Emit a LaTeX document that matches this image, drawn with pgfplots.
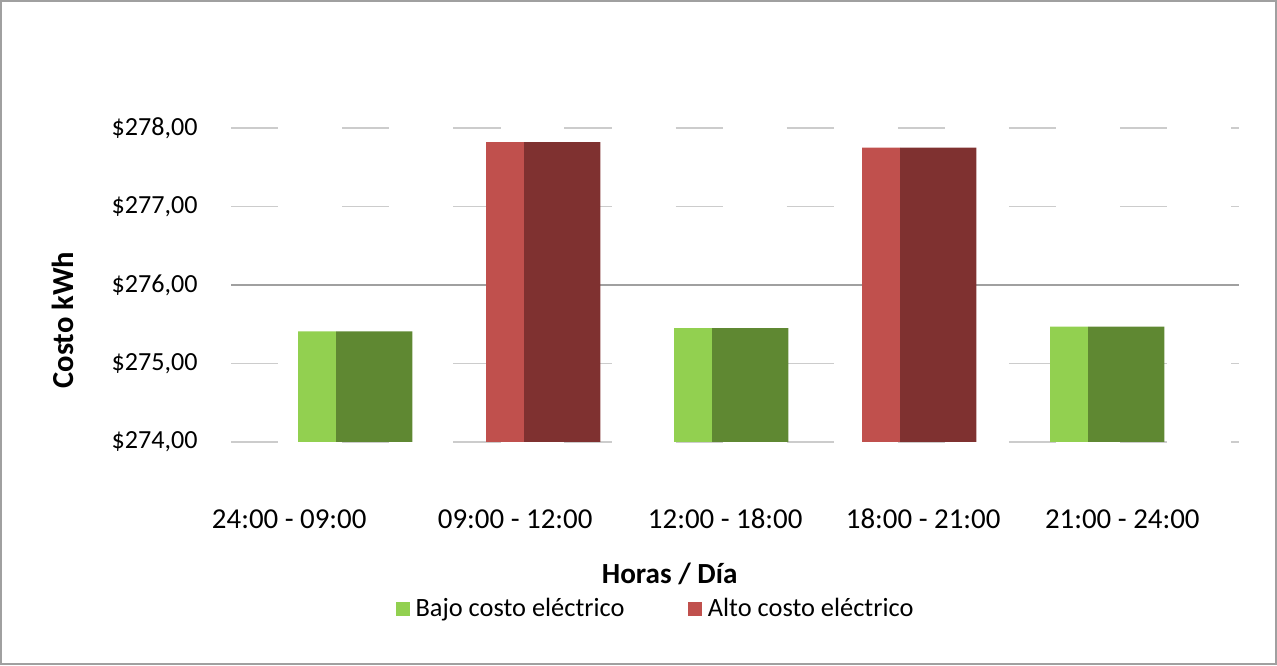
\documentclass[border=0pt]{standalone}
\usepackage{fontspec}
\setmainfont{Carlito}
\usepackage{pgfplots}
\pgfplotsset{compat=1.18}
\usepackage{pgfplotstable}

\definecolor{verdeclaro}{RGB}{146,208,80}
\definecolor{verdeosc}{RGB}{95,136,50}
\definecolor{rojoclaro}{RGB}{192,80,77}
\definecolor{rojoosc}{RGB}{127,49,48}
\definecolor{rejilla}{RGB}{160,160,160}

% costo por franja horaria
\pgfplotstableread{
x costo
0 275.41
2 275.45
4 275.47
}\bajo
\pgfplotstableread{
x costo
1 277.82
3 277.75
}\alto

\pgfplotsset{
  cuad/.style={legend image code/.code={\fill[##1] (0pt,-2.5pt) rectangle (5pt,2.5pt);}},
  cara/.style={ybar, draw=none, bar width=13.7pt, bar shift=-13.7pt, cuad},
  frente/.style={ybar, draw=none, bar width=27.4pt, bar shift=6.85pt, forget plot},
}

\begin{document}
\begin{tikzpicture}
\draw[rejilla, line width=0.7pt] (0.35pt,0.35pt) rectangle (459.35pt,239.05pt);
\begin{axis}[
  at={(83.2pt,80.3pt)}, anchor=south west,
  scale only axis, width=362.9pt, height=113pt,
  xmin=-0.660, xmax=4.702, ymin=274, ymax=278,
  axis line style={draw=none},
  major tick length=0pt,
  xtick={-0.351,0.851,1.968,3.021,4.08},
  xticklabels={24:00 - 09:00, 09:00 - 12:00, 12:00 - 18:00, 18:00 - 21:00, 21:00 - 24:00},
  xticklabel style={anchor=center, yshift=-27.7pt, font=\fontsize{10.4}{12}\selectfont},
  ytick={274,275,276,277,278},
  yticklabels={{\$274,00}, {\$275,00}, {\$276,00}, {\$277,00}, {\$278,00}},
  yticklabel style={anchor=east, inner sep=0pt, xshift=-11.9pt, font=\fontsize{9.4}{11}\selectfont},
  extra y ticks={276},
  extra y tick labels={},
  extra y tick style={ymajorgrids=true, major grid style={solid, rejilla, line width=0.7pt}},
  ymajorgrids=true,
  major grid style={gray!40, line width=0.6pt, dash pattern=on 17pt off 23pt},
  xlabel={Horas / Día},
  xlabel style={at={(axis description cs:0.435,-0.42)}, anchor=center, font=\bfseries\fontsize{10.5}{12}\selectfont},
  ylabel={Costo kWh},
  ylabel style={at={(axis description cs:-0.1667,0.388)}, anchor=center, font=\bfseries\fontsize{11}{13}\selectfont},
  legend columns=2,
  legend style={at={(0.423,-0.532)}, anchor=center, draw=none, fill=none,
    font=\fontsize{9.5}{11}\selectfont,
    /tikz/every even column/.append style={column sep=21pt}},
  legend cell align=left,
]
\addplot[cara, fill=verdeclaro] table[x=x, y=costo] {\bajo};
\addplot[frente, fill=verdeosc] table[x=x, y=costo] {\bajo};
\addplot[cara, fill=rojoclaro] table[x=x, y=costo] {\alto};
\addplot[frente, fill=rojoosc] table[x=x, y=costo] {\alto};
\legend{Bajo costo eléctrico, Alto costo eléctrico}
\end{axis}
\end{tikzpicture}
\end{document}
